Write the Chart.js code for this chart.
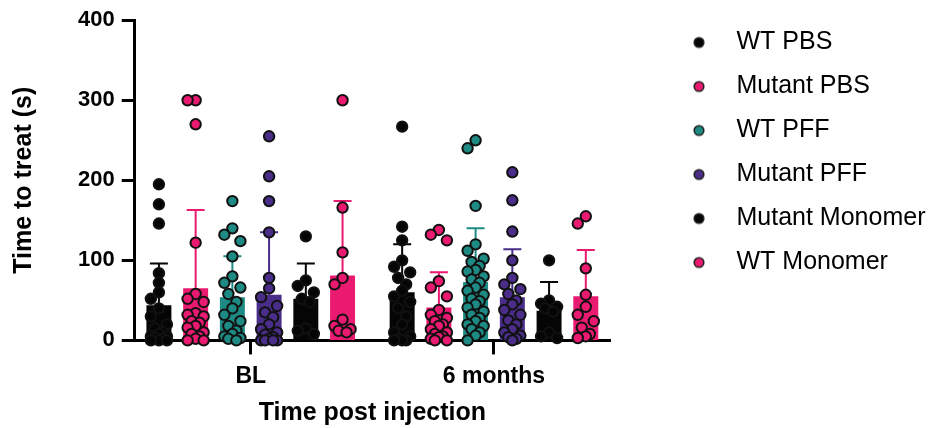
<!DOCTYPE html>
<html>
<head>
<meta charset="utf-8">
<script src="https://cdn.jsdelivr.net/npm/chart.js@4.4.1/dist/chart.umd.min.js"></script>
<style>
  html, body { margin: 0; padding: 0; background: #fff; }
  #wrap { position: relative; width: 931px; height: 428px; }
</style>
</head>
<body>
<div id="wrap"><canvas id="chart"></canvas></div>
<script>
const categories = ["BL", "6 months"];
const seriesNames = ["WT PBS", "Mutant PBS", "WT PFF", "Mutant PFF", "Mutant Monomer", "WT Monomer"];
const seriesColors = ["#050505", "#ea1a71", "#1e8a84", "#4a2d88", "#050505", "#ea1a71"];

// bar heights (mean) and error bars (SD), one value per series
const meanBL = [44, 65, 54, 57, 52, 81];
const mean6m = [60, 41, 73, 54, 37, 55];
const sdBL = [52, 98, 51, 78, 44, 93];
const sd6m = [60, 44, 67, 60, 36, 58];

// individual animals
const pointsBL = [
  [195, 170, 146, 84, 72, 60, 52, 40, 30, 20, 15, 10, 8, 5, 5, 3, 2, 0, 0, 0],
  [300, 300, 270, 122, 58, 52, 48, 34, 32, 30, 24, 22, 18, 16, 10, 8, 5, 2, 0, 0],
  [174, 140, 132, 124, 105, 80, 72, 66, 58, 48, 40, 32, 24, 18, 12, 8, 5, 3, 2, 0],
  [255, 205, 174, 135, 78, 65, 54, 43, 35, 29, 20, 14, 10, 7, 4, 2, 0, 0, 0, 0],
  [130, 75, 68, 60, 52, 48, 15, 12, 8],
  [300, 166, 110, 78, 70, 26, 18, 14, 12, 10]
];
const points6m = [
  [267, 142, 125, 100, 92, 85, 78, 70, 62, 55, 48, 40, 30, 20, 10, 5, 2, 0, 0, 0],
  [138, 132, 125, 74, 66, 55, 38, 32, 28, 24, 20, 18, 14, 10, 8, 5, 4, 2, 0, 0],
  [250, 240, 168, 120, 112, 102, 98, 93, 88, 86, 80, 76, 72, 66, 62, 57, 52, 49, 45, 41, 36, 32, 28, 24, 20, 18, 14, 10, 6, 0],
  [210, 175, 136, 100, 78, 70, 64, 58, 50, 45, 38, 32, 25, 20, 14, 10, 6, 4, 2, 0],
  [100, 50, 46, 42, 40, 36, 10, 5, 3],
  [155, 146, 90, 57, 42, 32, 24, 16, 8, 5, 3]
];

const yTicks = [0, 100, 200, 300, 400];

// x is a linear axis: category i sits at x = i, series are spaced SLOT apart
const X_MIN = -0.477;
const X_MAX = 1.477;
const SLOT = 0.151;
const spread = [0, -1, 1, -0.5, 0.5];
const JITTER = 0.033;
const OVERLAP = 12; // values closer than this would overlap, so they get nudged sideways

Chart.defaults.font.family = "'Liberation Sans', Arial, Helvetica, sans-serif";
Chart.defaults.color = "#000";

const slotX = (c, j) => c + (j - (seriesNames.length - 1) / 2) * SLOT;

function dotsFor(j) {
  const out = [];
  [pointsBL[j], points6m[j]].forEach((vals, c) => {
    let run = 0;
    vals.forEach((v, k) => {
      run = k > 0 && Math.abs(vals[k - 1] - v) < OVERLAP ? run + 1 : 0;
      out.push({ x: slotX(c, j) + spread[run % spread.length] * JITTER, y: v });
    });
  });
  return out;
}

// legend marker: a dot placed to the right of a wide transparent strip
function legendDot(color) {
  const c = document.createElement("canvas");
  c.width = 95;
  c.height = 14;
  const g = c.getContext("2d");
  g.beginPath();
  g.arc(70, 7, 4.8, 0, Math.PI * 2);
  g.fillStyle = color;
  g.fill();
  g.lineWidth = 1.6;
  g.strokeStyle = "#222";
  g.stroke();
  return c;
}
const legendDots = seriesColors.map(legendDot);

const errorBars = {
  id: "errorBars",
  afterDatasetDraw(chart, args) {
    const ds = chart.data.datasets[args.index];
    if (!ds.sd) return;
    const { ctx } = chart;
    const y = chart.scales.y;
    args.meta.data.forEach((bar, i) => {
      const top = y.getPixelForValue(ds.data[i].y + ds.sd[i]);
      ctx.save();
      ctx.strokeStyle = ds.backgroundColor;
      ctx.lineWidth = 2;
      ctx.beginPath();
      ctx.moveTo(bar.x, bar.y);
      ctx.lineTo(bar.x, top);
      ctx.moveTo(bar.x - 9, top);
      ctx.lineTo(bar.x + 9, top);
      ctx.stroke();
      ctx.restore();
    });
  },
};

const dotSets = seriesNames.map((name, j) => ({
  type: "scatter",
  label: name,
  data: dotsFor(j),
  backgroundColor: seriesColors[j],
  borderColor: "#111",
  borderWidth: 2,
  pointRadius: 5.2,
  clip: false,
}));

const barSets = seriesNames.map((name, j) => ({
  type: "bar",
  label: name,
  data: [meanBL[j], mean6m[j]].map((m, c) => ({ x: slotX(c, j), y: m })),
  sd: [sdBL[j], sd6m[j]],
  backgroundColor: seriesColors[j],
  grouped: false,
  categoryPercentage: 0.68,
  barPercentage: 1,
}));

new Chart(document.getElementById("chart"), {
  type: "bar",
  data: { datasets: [...dotSets, ...barSets] },
  options: {
    responsive: true,
    maintainAspectRatio: false,
    animation: false,
    layout: { padding: { top: 11, right: 0, bottom: 0, left: 0 } },
    scales: {
      x: {
        type: "linear",
        min: X_MIN,
        max: X_MAX,
        offset: false,
        afterBuildTicks: (axis) => { axis.ticks = categories.map((_, i) => ({ value: i })); },
        grid: {
          offset: false,
          drawOnChartArea: false,
          tickLength: 14,
          tickWidth: 3,
          tickColor: "#000",
        },
        border: { display: true, color: "#000", width: 3 },
        ticks: {
          color: "#000",
          padding: 8,
          font: { size: 23, weight: "bold" },
          callback: (v) => categories[v],
        },
        title: {
          display: true,
          text: "Time post injection",
          color: "#000",
          font: { size: 25, weight: "bold" },
          padding: { top: 0, bottom: 0 },
        },
      },
      y: {
        min: 0,
        max: 400,
        afterBuildTicks: (axis) => { axis.ticks = yTicks.map((v) => ({ value: v })); },
        grid: {
          drawOnChartArea: false,
          tickLength: 13,
          tickWidth: 3,
          tickColor: "#000",
        },
        border: { display: true, color: "#000", width: 3 },
        ticks: { color: "#000", padding: 7, font: { size: 22, weight: "bold" } },
        title: {
          display: true,
          text: "Time to treat (s)",
          color: "#000",
          font: { size: 25, weight: "bold" },
          padding: { top: 9, bottom: 32 },
        },
      },
    },
    plugins: {
      tooltip: { enabled: false },
      legend: {
        position: "right",
        align: "start",
        maxWidth: 321,
        labels: {
          usePointStyle: true,
          pointStyleWidth: 95,
          padding: 19,
          color: "#000",
          font: { size: 25 },
          filter: (item) => item.datasetIndex < seriesNames.length,
          generateLabels: (chart) =>
            Chart.defaults.plugins.legend.labels.generateLabels(chart).map((item) => ({
              ...item,
              pointStyle: legendDots[item.datasetIndex % legendDots.length],
            })),
        },
      },
    },
  },
  plugins: [errorBars],
});
</script>
</body>
</html>
